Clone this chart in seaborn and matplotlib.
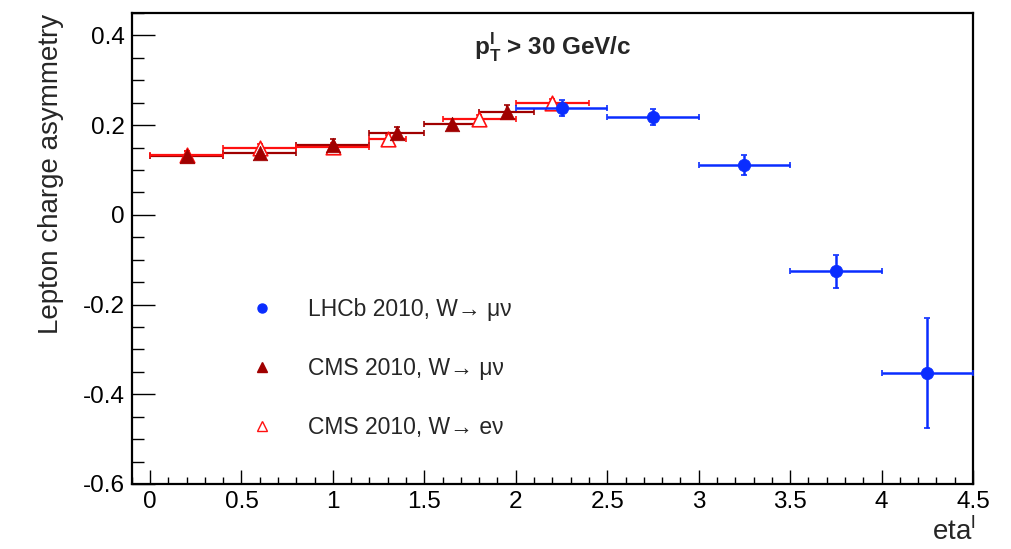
import matplotlib
matplotlib.use("Agg")
import matplotlib.pyplot as plt
from matplotlib.lines import Line2D
from matplotlib.ticker import MultipleLocator
import seaborn as sns
import pandas as pd

# ---- data ----
lhcb_eta = [2.25, 2.75, 3.25, 3.75, 4.25]
lhcb_eta_err = [0.25, 0.25, 0.25, 0.25, 0.25]
lhcb_asym = [0.238, 0.218, 0.111, -0.126, -0.353]
lhcb_asym_err = [0.018, 0.017, 0.023, 0.037, 0.122]

cms_mu_eta = [0.2, 0.6, 1.0, 1.35, 1.65, 1.95]
cms_mu_eta_err = [0.2, 0.2, 0.2, 0.15, 0.15, 0.15]
cms_mu_asym = [0.131, 0.137, 0.155, 0.183, 0.202, 0.229]
cms_mu_asym_err = [0.011, 0.011, 0.014, 0.012, 0.012, 0.015]

cms_e_eta = [0.2, 0.6, 1.0, 1.3, 1.8, 2.2]
cms_e_eta_err = [0.2, 0.2, 0.2, 0.1, 0.2, 0.2]
cms_e_asym = [0.133, 0.148, 0.151, 0.169, 0.213, 0.249]
cms_e_asym_err = [0.010, 0.010, 0.010, 0.010, 0.010, 0.010]

x_ticks = [0, 0.5, 1, 1.5, 2, 2.5, 3, 3.5, 4, 4.5]
x_ticklabels = ["0", "0.5", "1", "1.5", "2", "2.5", "3", "3.5", "4", "4.5"]
y_ticks = [-0.6, -0.4, -0.2, 0, 0.2, 0.4]
y_ticklabels = ["-0.6", "-0.4", "-0.2", "0", "0.2", "0.4"]

labels = ["LHCb 2010, W\u2192 \u03bc\u03bd", "CMS 2010, W\u2192 \u03bc\u03bd", "CMS 2010, W\u2192 e\u03bd"]

lhcb = pd.DataFrame({"eta": lhcb_eta, "A": lhcb_asym})
cmsmu = pd.DataFrame({"eta": cms_mu_eta, "A": cms_mu_asym})
cmse = pd.DataFrame({"eta": cms_e_eta, "A": cms_e_asym})

sns.set_style("ticks")
plt.rcParams["font.family"] = ["Liberation Sans", "DejaVu Sans"]
plt.rcParams["mathtext.fontset"] = "custom"
plt.rcParams["mathtext.rm"] = "Liberation Sans"
plt.rcParams["mathtext.bf"] = "Liberation Sans:bold"

BLUE = "#0a2dff"
DARKRED = "#a00000"
RED = "#ff1010"

fig = plt.figure(figsize=(10.11, 5.49), dpi=100)
ax = fig.add_axes([0.1303, 0.1184, 0.8321, 0.8579])

# CMS error bars
ax.errorbar(cms_mu_eta, cms_mu_asym, xerr=cms_mu_eta_err, yerr=cms_mu_asym_err,
            fmt="none", ecolor=DARKRED, elinewidth=1.6, capsize=2, capthick=1.2, zorder=2)
ax.errorbar(cms_e_eta, cms_e_asym, xerr=cms_e_eta_err, yerr=cms_e_asym_err,
            fmt="none", ecolor=RED, elinewidth=1.6, capsize=2, capthick=1.2, zorder=3)
# CMS markers
sns.scatterplot(data=cmse, x="eta", y="A", marker="^", facecolor="white", s=110,
                edgecolor=RED, linewidth=1.2, ax=ax, zorder=4)
sns.scatterplot(data=cmsmu, x="eta", y="A", marker="^", color=DARKRED, s=110,
                edgecolor=DARKRED, linewidth=0.5, ax=ax, zorder=5)
# LHCb
ax.errorbar(lhcb_eta, lhcb_asym, xerr=lhcb_eta_err, yerr=lhcb_asym_err,
            fmt="none", ecolor=BLUE, elinewidth=1.8, capsize=2, capthick=1.2, zorder=6)
sns.scatterplot(data=lhcb, x="eta", y="A", marker="o", color=BLUE, s=80,
                edgecolor=BLUE, linewidth=0.5, ax=ax, zorder=7)

ax.set_xlim(-0.1, 4.5)
ax.set_ylim(-0.6, 0.45)
ax.set_xlabel("")
ax.set_ylabel("")

ax.xaxis.set_minor_locator(MultipleLocator(0.1))
ax.yaxis.set_minor_locator(MultipleLocator(0.05))
ax.set_xticks(x_ticks)
ax.set_xticklabels(x_ticklabels)
ax.set_yticks(y_ticks)
ax.set_yticklabels(y_ticklabels)

ax.tick_params(axis="both", which="both", direction="in", top=False, right=False,
               labelsize=17.5, colors="black", width=1.0)
ax.tick_params(axis="x", which="major", length=10, pad=5)
ax.tick_params(axis="x", which="minor", length=5)
ax.tick_params(axis="y", which="major", length=16.5, pad=5)
ax.tick_params(axis="y", which="minor", length=8.5)
for sp in ax.spines.values():
    sp.set_visible(True)
    sp.set_linewidth(1.6)
    sp.set_color("black")

fig.text(0.050, 0.975, "Lepton charge asymmetry", rotation=90, ha="center", va="top",
         fontsize=20)
fig.text(0.965, 0.006, r"eta$^{\mathrm{l}}$", ha="right", va="bottom", fontsize=20)
ax.text(0.5, 0.928, r"$\mathbf{p}_{\mathbf{T}}^{\mathbf{l}}$ > 30 GeV/c", transform=ax.transAxes,
        ha="center", va="center", fontsize=17.5, fontweight="bold")

handles = [
    Line2D([], [], linestyle="none", marker="o", color=BLUE, markersize=6.5),
    Line2D([], [], linestyle="none", marker="^", color=DARKRED, markersize=7.5),
    Line2D([], [], linestyle="none", marker="^", markerfacecolor="white",
           markeredgecolor=RED, markeredgewidth=1.0, markersize=7.5),
]
ax.legend(handles, labels, loc="upper left", bbox_to_anchor=(0.128, 0.414), frameon=False,
          fontsize=16.5, labelspacing=1.56, handlelength=1.2, handletextpad=1.4,
          borderaxespad=0.0)

fig.savefig("out.png", dpi=100)
